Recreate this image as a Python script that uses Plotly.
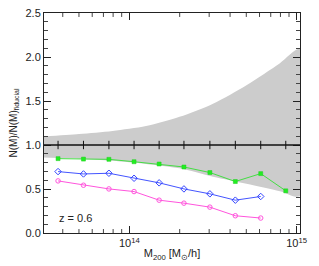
import plotly.graph_objects as go
import numpy as np

# Data
bin_mass = [3.75e13, 5.32e13, 7.55e13, 1.067e14, 1.507e14, 2.12e14, 3.03e14, 4.30e14, 6.10e14, 8.61e14]
green_vals = [0.845, 0.84, 0.837, 0.81, 0.784, 0.75, 0.687, 0.585, 0.675, 0.479]
blue_vals = [0.698, 0.671, 0.679, 0.622, 0.570, 0.501, 0.445, 0.373, 0.415]
pink_vals = [0.592, 0.543, 0.501, 0.471, 0.373, 0.339, 0.294, 0.196, 0.170]

band_mass = [10**13.49, 10**13.7, 10**13.9, 10**14.1, 10**14.3, 10**14.5, 10**14.7, 10**14.9, 10**15.02]
band_upper = [1.097, 1.125, 1.16, 1.215, 1.32, 1.47, 1.68, 1.93, 2.09]
band_lower = [0.857, 0.845, 0.82, 0.785, 0.735, 0.64, 0.56, 0.475, 0.42]

major_x = [1e14, 1e15]
major_x_text = ["10<sup>14</sup>", "10<sup>15</sup>"]
minor_x = [4e13, 5e13, 6e13, 7e13, 8e13, 9e13, 2e14, 3e14, 4e14, 5e14, 6e14, 7e14, 8e14, 9e14]

ref_level = 1.0
redshift_label = "z = 0.6"

font_family = "Liberation Sans, Arial, sans-serif"
text_color = "#222222"

fig = go.Figure()

# Gray band (smooth edges)
fig.add_trace(go.Scatter(x=band_mass + band_mass[::-1], y=band_upper + band_lower[::-1],
                         fill="toself", fillcolor="#cccccc",
                         line=dict(width=0, shape="spline", smoothing=0.8),
                         mode="lines", hoverinfo="skip", showlegend=False))

# Reference line at 1 with tick marks at bin centres
fig.add_shape(type="line", xref="paper", yref="y", x0=0, x1=1, y0=ref_level, y1=ref_level,
              line=dict(color="#111111", width=1.5))
fig.add_trace(go.Scatter(x=bin_mass, y=[ref_level] * len(bin_mass), mode="markers",
                         marker=dict(symbol="line-ns", size=6, line=dict(color="#111111", width=1)),
                         showlegend=False))

fig.add_trace(go.Scatter(x=bin_mass, y=green_vals, mode="lines+markers",
                         line=dict(color="#44dd44", width=1),
                         marker=dict(symbol="square", size=4, color="#22ee22",
                                     line=dict(color="#22cc22", width=0.5)),
                         showlegend=False))
fig.add_trace(go.Scatter(x=bin_mass[:len(blue_vals)], y=blue_vals, mode="lines+markers",
                         line=dict(color="#4455ff", width=1),
                         marker=dict(symbol="diamond-open", size=5, color="#3344ff",
                                     line=dict(color="#3344ff", width=1)),
                         showlegend=False))
fig.add_trace(go.Scatter(x=bin_mass[:len(pink_vals)], y=pink_vals, mode="lines+markers",
                         line=dict(color="#ff55dd", width=1),
                         marker=dict(symbol="circle-open", size=4.5, color="#ff55dd",
                                     line=dict(color="#ff55dd", width=1)),
                         showlegend=False))

fig.add_annotation(text=redshift_label, xref="paper", yref="paper", x=0.05, y=0.07,
                   xanchor="left", yanchor="middle", showarrow=False,
                   font=dict(size=11, color=text_color, family=font_family))

# Minor x ticks (bottom and top, pointing inside)
for mv in minor_x:
    fig.add_shape(type="line", xref="x", yref="paper", x0=mv, x1=mv, y0=0, y1=0.018,
                  line=dict(color="#444444", width=1))
    fig.add_shape(type="line", xref="x", yref="paper", x0=mv, x1=mv, y0=1, y1=0.982,
                  line=dict(color="#444444", width=1))

fig.update_xaxes(type="log", range=[13.49, 15.02], tickmode="array",
                 tickvals=major_x, ticktext=major_x_text, automargin=False,
                 showgrid=False, zeroline=False, showline=True, linecolor="#222222", linewidth=1,
                 mirror="ticks", ticks="inside", ticklen=7, tickcolor="#222222",
                 tickfont=dict(size=11, color=text_color, family=font_family),
                 title=dict(text="M<sub>200</sub> [M<sub>⊙</sub>/h]", standoff=1,
                            font=dict(size=11, color=text_color, family=font_family)))
fig.update_yaxes(range=[0, 2.5], dtick=0.5, tickformat=".1f", automargin=False,
                 showgrid=False, zeroline=False, showline=True, linecolor="#222222", linewidth=1,
                 mirror="ticks", ticks="inside", ticklen=7, tickcolor="#222222",
                 minor=dict(ticks="inside", ticklen=4, dtick=0.1, tickcolor="#444444", showgrid=False),
                 tickfont=dict(size=11, color=text_color, family=font_family),
                 title=dict(text="N(M)/N(M)<sub>fiducial</sub>", standoff=6,
                            font=dict(size=10, color=text_color, family=font_family)))

fig.update_layout(width=319, height=266, margin=dict(l=44, r=19, t=13, b=33),
                  paper_bgcolor="white", plot_bgcolor="white",
                  font=dict(family=font_family, color=text_color))

fig.write_html("out.html", config={"displayModeBar": False},
               post_script="document.body.style.margin='0px';")
